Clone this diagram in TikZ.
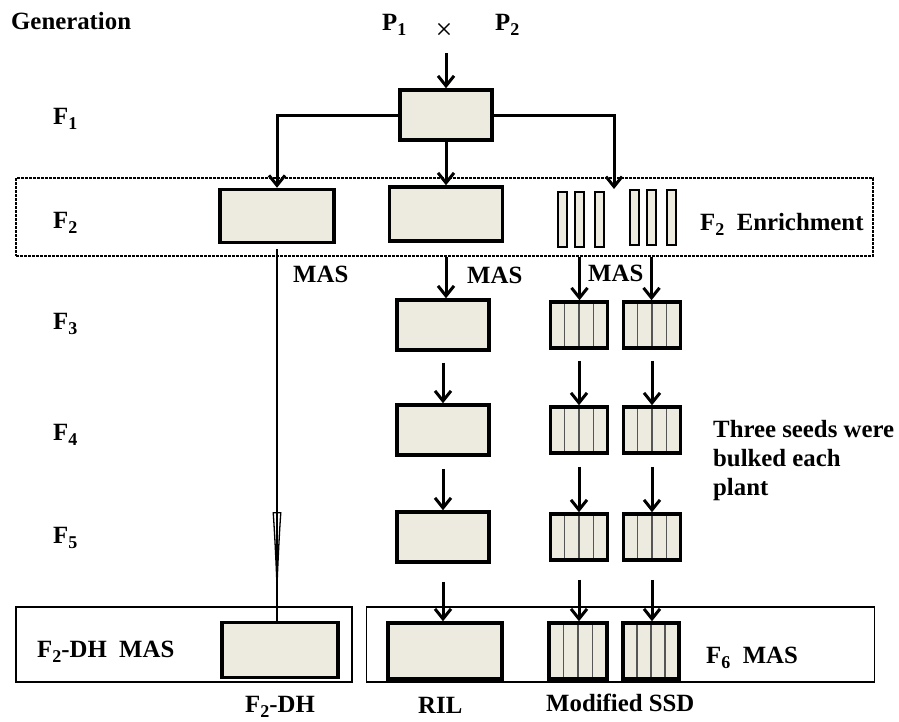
\documentclass[tikz,border=0pt]{standalone}
\usepackage{fontspec}
\setmainfont{Liberation Serif}
\usepackage{tikz}
\usetikzlibrary{arrows.meta,calc}

\definecolor{plotfill}{RGB}{237,235,224}
\definecolor{stripe}{RGB}{85,85,85}
\newcommand{\lowsub}[1]{\raisebox{-5pt}{\fontsize{18}{18}\selectfont #1}}

\tikzset{
  lbl/.style={anchor=base west, inner sep=0pt, font=\bfseries\fontsize{24.8}{29}\selectfont},
  plot/.style={draw, line width=3.5pt, fill=plotfill, inner sep=0pt},
  bar/.style={draw, line width=1.3pt, fill=plotfill, inner sep=0pt, minimum width=9pt, minimum height=55pt},
  ssd/.style={plot, minimum width=57pt, minimum height=46pt,
    path picture={\foreach \k in {1,2,3}{
      \draw[line width=1.3pt, stripe]
        ($(path picture bounding box.south west)!{\k/4}!(path picture bounding box.south east)$) --
        ($(path picture bounding box.north west)!{\k/4}!(path picture bounding box.north east)$);}}},
  arr/.style={line width=3pt, -{Straight Barb[length=10pt,width=16pt]}},
  frame/.style={draw, line width=1.2pt, inner sep=0pt}
}

\begin{document}
\begin{tikzpicture}[x=1pt,y=-1pt]
    \useasboundingbox (0,0) rectangle (899,721);

    % frames
    \node[frame, dash pattern=on 3pt off 1pt, minimum width=857pt, minimum height=78pt] (f2frame) at (444.5,217) {};
    \node[frame, minimum width=336pt, minimum height=75pt] (dhframe) at (184,644.5) {};
    \node[frame, minimum width=508pt, minimum height=75pt] (rilframe) at (620.5,644.5) {};

    % generations
    \node[lbl] (gen) at (11,29) {Generation};
    \node[lbl] (p1) at (382,30) {P\lowsub{1}};
    \node[inner sep=0pt, font=\fontsize{30}{30}\selectfont] (cross) at (444,31) {×};
    \node[lbl] (p2) at (495,30) {P\lowsub{2}};
    \node[lbl] (g1) at (53,124) {F\lowsub{1}};
    \node[lbl] (g2) at (53,228) {F\lowsub{2}};
    \node[lbl] (g3) at (53,329) {F\lowsub{3}};
    \node[lbl] (g4) at (53,440) {F\lowsub{4}};
    \node[lbl] (g5) at (53,543) {F\lowsub{5}};

    % plots
    \node[plot, minimum width=92pt, minimum height=50pt] (f1) at (446,115) {};
    \node[plot, minimum width=114pt, minimum height=53pt] (f2a) at (277,216) {};
    \node[plot, minimum width=113pt, minimum height=54pt] (f2b) at (446,214) {};
    \foreach \x [count=\i] in {562.5,579.5,599.5}
        \node[bar] (bar1\i) at (\x,219.5) {};
    \foreach \x [count=\i] in {634.5,651.5,671.5}
        \node[bar] (bar2\i) at (\x,217.5) {};

    \foreach \y/\g in {325/3,430/4,537/5}{
        \node[plot, minimum width=92pt, minimum height=50pt] (ril\g) at (443,\y) {};
        \node[ssd] (ssda\g) at (579,\y) {};
        \node[ssd] (ssdb\g) at (652,\y) {};
    }
    \node[plot, minimum width=116pt, minimum height=55pt] (f2dh) at (280,650) {};
    \node[plot, minimum width=114pt, minimum height=56pt] (ril6) at (445,651) {};
    \node[ssd, minimum width=58pt, minimum height=56pt] (ssda6) at (578,651) {};
    \node[ssd, minimum width=56pt, minimum height=56pt] (ssdb6) at (651,651) {};

    % texts
    \node[lbl] (enrich) at (700,230) {F\lowsub{2}\ \ Enrichment};
    \node[lbl] (mas1) at (293,282) {MAS};
    \node[lbl] (mas2) at (467,283) {MAS};
    \node[lbl] (mas3) at (588,281) {MAS};
    \node[lbl, anchor=north west, align=left] (bulk) at (713,420.5) {Three seeds were\\bulked each\\plant};
    \node[lbl] (dhmas) at (37,657) {F\lowsub{2}-DH\ \ MAS};
    \node[lbl] (f6mas) at (706,663) {F\lowsub{6}\ \ MAS};
    \node[lbl] (dhname) at (245,712) {F\lowsub{2}-DH};
    \node[lbl] (rilname) at (418,713) {RIL};
    \node[lbl] (ssdname) at (546,711) {Modified SSD};

    % connectors
    \coordinate (enrtop) at (614,189);
    \coordinate (dhtip) at (277,607);
    \draw[arr, shorten <=14pt] (f1.north |- cross.south) -- (f1.north);
    \draw[arr] (f1.west) -| (f2a.north);
    \draw[arr] (f1.south) -- (f2b.north);
    \draw[arr] (f1.east) -| (enrtop);

    \draw[arr, shorten <=14pt] (f2b.south) -- (f2b.south |- ril3.north);
    \draw[arr, shorten <=9pt] (bar12.south) -- (bar12.south |- ssda3.north);
    \draw[arr, shorten <=11pt] (bar22.south) -- (bar22.south |- ssdb3.north);
    \foreach \a/\b/\s in {3/4/11,4/5/12,5/6/18}{
        \draw[arr, shorten <=\s pt] (ril\a.south) -- (ril\a.south |- ril\b.north);
        \draw[arr, shorten <=\s pt] (ssda\a.south) -- (ssda\a.south |- ssda\b.north);
        \draw[arr, shorten <=\s pt] (ssdb\a.south) -- (ssdb\a.south |- ssdb\b.north);
    }

    \draw[line width=1.3pt, shorten <=5pt] (f2a.south) -- (f2a.south |- f2dh.north);
    \draw[line width=1.3pt, shorten <=5pt, -{Latex[open,length=95pt,width=9pt]}] (f2a.south) -- (dhtip);
\end{tikzpicture}
\end{document}
